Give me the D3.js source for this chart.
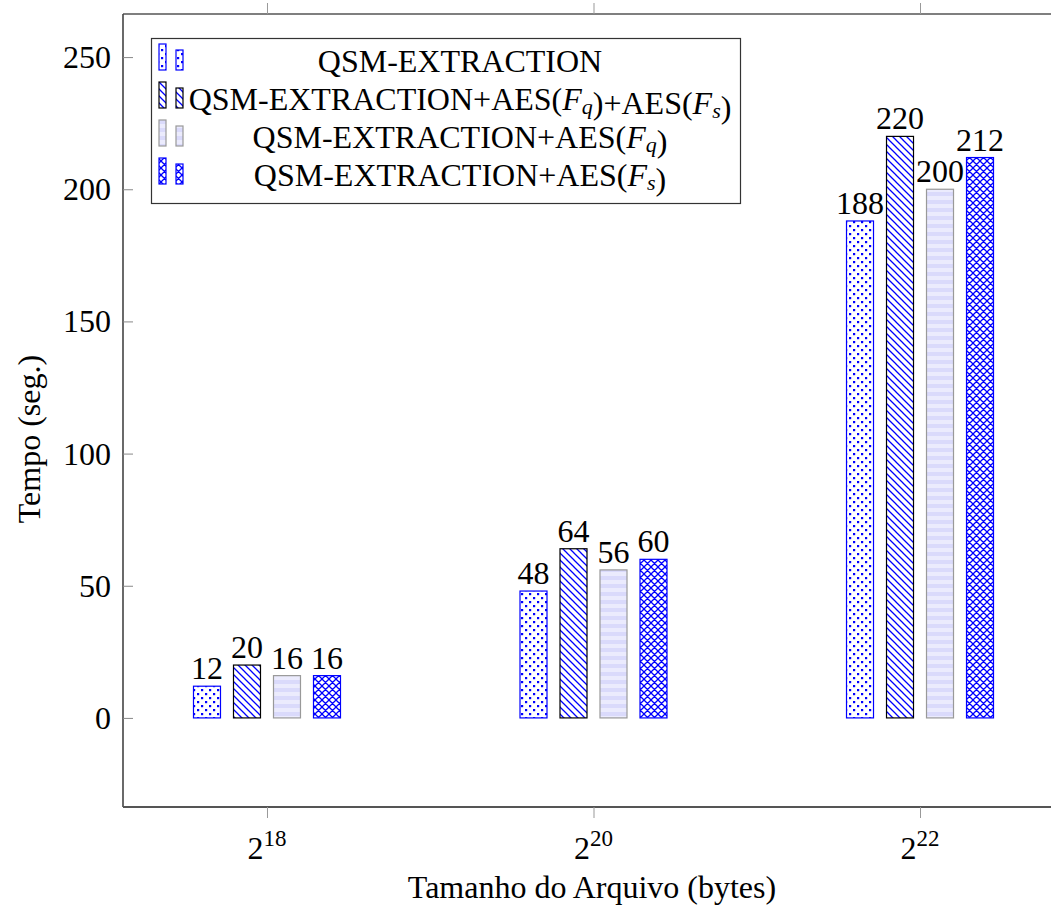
<!DOCTYPE html>
<html>
<head>
<meta charset="utf-8">
<script src="https://cdn.jsdelivr.net/npm/d3@7"></script>
<style>
  html, body { margin: 0; padding: 0; background: #fff; }
  svg, svg text { font-family: "Liberation Serif", "Times New Roman", serif; }
  svg { display: block; }
</style>
</head>
<body>
<svg id="chart" width="1051" height="906"></svg>
<script>
// ---- data ----
const categories = ["18", "20", "22"];          // exponent of 2 (file size in bytes)
const seriesNames = ["QSM-EXTRACTION", "QSM-EXTRACTION+AES(Fq)+AES(Fs)", "QSM-EXTRACTION+AES(Fq)", "QSM-EXTRACTION+AES(Fs)"];
const extractionOnly = [12, 48, 188];
const extractionFqFs = [20, 64, 220];
const extractionFq = [16, 56, 200];
const extractionFs = [16, 60, 212];
const yTicks = [0, 50, 100, 150, 200, 250];
const yLabel = "Tempo (seg.)";
const xLabel = "Tamanho do Arquivo (bytes)";

const seriesValues = [extractionOnly, extractionFqFs, extractionFq, extractionFs];

const svg = d3.select("#chart");
const FONT = 32;
const FAMILY = "Liberation Serif, Times New Roman, serif";

// ---- patterns ----
const defs = svg.append("defs");
const blue = "#0000ff";
const pDots = defs.append("pattern").attr("id", "pDots").attr("patternUnits", "userSpaceOnUse")
  .attr("width", 8).attr("height", 8);
pDots.append("rect").attr("width", 8).attr("height", 8).attr("fill", "#fff");
pDots.append("rect").attr("x", 1).attr("y", 1).attr("width", 2.2).attr("height", 2.2).attr("fill", blue);
pDots.append("rect").attr("x", 5).attr("y", 5).attr("width", 2.2).attr("height", 2.2).attr("fill", blue);
const pNW = defs.append("pattern").attr("id", "pNW").attr("patternUnits", "userSpaceOnUse")
  .attr("width", 7).attr("height", 7);
pNW.append("rect").attr("width", 7).attr("height", 7).attr("fill", "#fff");
pNW.append("path").attr("d", "M-1,-1L8,8M-1,6L1,8M6,-1L8,1").attr("stroke", blue).attr("stroke-width", 1.3);
const pCross = defs.append("pattern").attr("id", "pCross").attr("patternUnits", "userSpaceOnUse")
  .attr("width", 7).attr("height", 7);
pCross.append("rect").attr("width", 7).attr("height", 7).attr("fill", "#fff");
pCross.append("path").attr("d", "M-1,-1L8,8M-1,6L1,8M6,-1L8,1M-1,8L8,-1M-1,1L1,-1M6,8L8,6")
  .attr("stroke", blue).attr("stroke-width", 1.3);
const pStripe = defs.append("pattern").attr("id", "pStripe").attr("patternUnits", "userSpaceOnUse")
  .attr("width", 8).attr("height", 8);
pStripe.append("rect").attr("width", 8).attr("height", 8).attr("fill", "#dadafb");
pStripe.append("rect").attr("y", 4).attr("width", 8).attr("height", 4).attr("fill", "#ebebfd");

const styles = [
  { fill: "url(#pDots)", stroke: blue },
  { fill: "url(#pNW)", stroke: "#000" },
  { fill: "url(#pStripe)", stroke: "#999" },
  { fill: "url(#pCross)", stroke: blue }
];

// ---- scales ----
const plotLeft = 123, plotRight = 1064, plotTop = 14, plotBottom = 807;
const x = d3.scaleLinear().domain([-0.441, 2.441]).range([plotLeft, plotRight]);
const y = d3.scaleLinear().domain([-33.7, 266.3]).range([plotBottom, plotTop]);
const inner = d3.scaleBand().domain(d3.range(seriesNames.length)).range([-80, 80])
  .paddingInner(0.325).paddingOuter(0.1625);

// ---- frame ----
svg.append("line").attr("x1", plotLeft).attr("x2", 1051).attr("y1", plotTop).attr("y2", plotTop)
  .attr("stroke", "#000").attr("stroke-width", 1.2);
svg.append("line").attr("x1", plotLeft).attr("x2", plotLeft).attr("y1", plotTop).attr("y2", plotBottom)
  .attr("stroke", "#444").attr("stroke-width", 1.6);
svg.append("line").attr("x1", plotLeft).attr("x2", 1051).attr("y1", plotBottom).attr("y2", plotBottom)
  .attr("stroke", "#555").attr("stroke-width", 1.8);

// ---- y axis ----
const yAxis = d3.axisLeft(y).tickValues(yTicks).tickSize(-10).tickPadding(12);
const gy = svg.append("g").attr("transform", `translate(${plotLeft},0)`).call(yAxis)
  .attr("font-family", FAMILY).attr("font-size", FONT);
gy.select(".domain").remove();
gy.selectAll(".tick line").attr("stroke", "#888").attr("stroke-width", 1);
gy.selectAll(".tick text").attr("fill", "#000").attr("dy", "0.33em");

// ---- x axis ticks ----
const xb = d3.axisBottom(x).tickValues(d3.range(categories.length)).tickSize(11).tickFormat("");
const gxb = svg.append("g").attr("transform", `translate(0,${plotBottom})`).call(xb);
gxb.select(".domain").remove();
gxb.selectAll(".tick line").attr("stroke", "#999");
const xt = d3.axisTop(x).tickValues(d3.range(categories.length)).tickSize(11).tickFormat("");
const gxt = svg.append("g").attr("transform", `translate(0,${plotTop})`).call(xt);
gxt.select(".domain").remove();
gxt.selectAll(".tick line").attr("stroke", "#999");

categories.forEach((c, i) => {
  const t = svg.append("text").attr("x", x(i)).attr("y", 859).attr("text-anchor", "middle")
    .attr("font-family", FAMILY).attr("font-size", FONT).attr("fill", "#000");
  t.append("tspan").text("2");
  t.append("tspan").attr("font-size", 23).attr("dy", -13).text(c);
});

// ---- bars ----
seriesValues.forEach((vals, s) => {
  const g = svg.append("g");
  g.selectAll("rect").data(vals).join("rect")
    .attr("x", (d, i) => x(i) + inner(s))
    .attr("width", inner.bandwidth())
    .attr("y", d => y(d))
    .attr("height", d => y(0) - y(d))
    .attr("fill", styles[s].fill)
    .attr("stroke", styles[s].stroke)
    .attr("stroke-width", 1.2);
  g.selectAll("text").data(vals).join("text")
    .attr("x", (d, i) => x(i) + inner(s) + inner.bandwidth() / 2)
    .attr("y", d => y(d) - 7)
    .attr("text-anchor", "middle")
    .attr("font-family", FAMILY)
    .attr("font-size", FONT)
    .attr("fill", "#000")
    .text(d => d);
});

// ---- axis labels ----
svg.append("text").attr("transform", "translate(40,439) rotate(-90)")
  .attr("text-anchor", "middle").attr("font-family", FAMILY).attr("font-size", FONT)
  .attr("fill", "#000").text(yLabel);
svg.append("text").attr("x", 592).attr("y", 898).attr("text-anchor", "middle")
  .attr("font-family", FAMILY).attr("font-size", FONT).attr("fill", "#000").text(xLabel);

// ---- legend ----
const lg = svg.append("g");
lg.append("rect").attr("x", 151.5).attr("y", 38.5).attr("width", 589).attr("height", 165)
  .attr("fill", "#fff").attr("stroke", "#333").attr("stroke-width", 1.2);

function addLabel(textSel, name) {
  const parts = name.split(/(F[qs])/);
  parts.forEach(p => {
    if (/^F[qs]$/.test(p)) {
      textSel.append("tspan").attr("font-style", "italic").text("F");
      textSel.append("tspan").attr("font-style", "italic").attr("font-size", 22)
        .attr("dy", 4).text(p[1]);
      textSel.append("tspan").attr("dy", -4).text("");
    } else if (p.length) {
      textSel.append("tspan").text(p);
    }
  });
}

seriesNames.forEach((name, s) => {
  const bottomY = 70 + 38 * s;
  lg.append("rect").attr("x", 159).attr("y", bottomY - 26).attr("width", 7).attr("height", 26)
    .attr("fill", styles[s].fill).attr("stroke", styles[s].stroke).attr("stroke-width", 1.2);
  lg.append("rect").attr("x", 176).attr("y", bottomY - 20).attr("width", 7).attr("height", 20)
    .attr("fill", styles[s].fill).attr("stroke", styles[s].stroke).attr("stroke-width", 1.2);
  const t = lg.append("text").attr("x", 460).attr("y", bottomY + 2).attr("text-anchor", "middle")
    .attr("font-family", FAMILY).attr("font-size", FONT).attr("fill", "#000");
  addLabel(t, name);
});
</script>
</body>
</html>
